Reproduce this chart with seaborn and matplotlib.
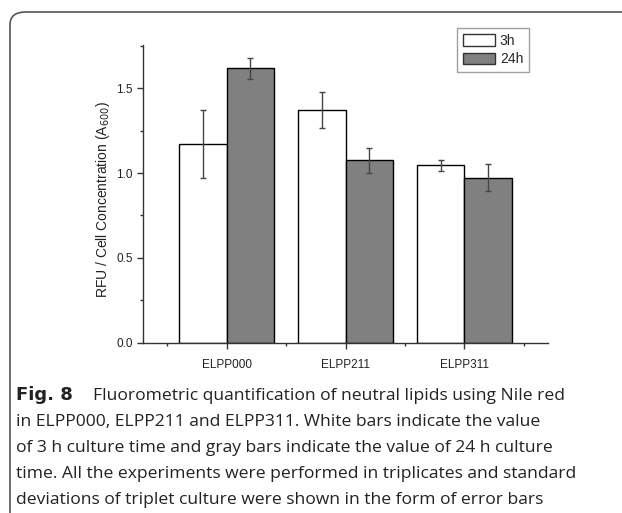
import matplotlib
matplotlib.use("Agg")
import matplotlib.pyplot as plt
import seaborn as sns
import pandas as pd
from matplotlib.patches import FancyBboxPatch, Patch
from matplotlib.ticker import MultipleLocator, FormatStrFormatter

strains = ["ELPP000", "ELPP211", "ELPP311"]
times = ["3h", "24h"]
mean_3h = [1.17, 1.37, 1.045]
mean_24h = [1.617, 1.075, 0.972]
sd_3h = [0.20, 0.105, 0.03]
sd_24h = [0.06, 0.075, 0.08]

caption_lines = [
    "in ELPP000, ELPP211 and ELPP311. White bars indicate the value",
    "of 3 h culture time and gray bars indicate the value of 24 h culture",
    "time. All the experiments were performed in triplicates and standard",
    "deviations of triplet culture were shown in the form of error bars",
]

df = pd.DataFrame({
    "strain": strains * 2,
    "time": ["3h"] * 3 + ["24h"] * 3,
    "value": mean_3h + mean_24h,
    "sd": sd_3h + sd_24h,
})

sns.set_style("ticks")
plt.rcParams["font.family"] = ["Liberation Sans", "DejaVu Sans"]

fig = plt.figure(figsize=(6.22, 5.13), dpi=100)
W, H = 622, 513
ax = fig.add_axes([143 / W, 1 - 342.7 / H, (548 - 143) / W, (342.7 - 45) / H])

colors = {"3h": "white", "24h": "#808080"}
sns.barplot(data=df, x="strain", y="value", hue="time", hue_order=times,
            palette=colors, edgecolor="black", linewidth=1.0, errorbar=None,
            width=0.8, gap=0, legend=False, ax=ax)

# error bars on the bar centres
for cont, t in zip(ax.containers, times):
    sub = df[df["time"] == t].set_index("strain").loc[strains]
    xs = [b.get_x() + b.get_width() / 2 for b in cont]
    ax.errorbar(xs, sub["value"], yerr=sub["sd"], fmt="none", ecolor="#444444",
                elinewidth=1.0, capsize=2, capthick=1.0, zorder=5)

ax.set_xlim(-0.705, 2.705)
ax.set_ylim(0, 1.755)
ax.yaxis.set_major_locator(MultipleLocator(0.5))
ax.yaxis.set_minor_locator(MultipleLocator(0.25))
ax.set_xticks([-0.5, 0.5, 1.5, 2.5], minor=True)
ax.tick_params(axis="both", which="major", length=4, width=1, color="#333333",
               labelsize=8.5, labelcolor="#222222")
ax.tick_params(axis="both", which="minor", length=2.5, width=1, color="#333333")
ax.tick_params(axis="x", which="major", pad=8)
ax.yaxis.set_major_formatter(FormatStrFormatter("%.1f"))
for s in ["top", "right"]:
    ax.spines[s].set_visible(False)
for s in ["left", "bottom"]:
    ax.spines[s].set_color("#333333")
    ax.spines[s].set_linewidth(1.0)
ax.set_xlabel("")
ax.set_ylabel("RFU / Cell Concentration (A$_{600}$)", fontsize=10, color="#222222")
ax.yaxis.set_label_coords(-0.077, 0.48)

handles = [Patch(facecolor=colors[t], edgecolor="#333333", linewidth=1.0) for t in times]
fig.legend(handles, times, loc="upper left", bbox_to_anchor=(456.7 / W, 1 - 27.7 / H),
           frameon=True, fancybox=False, edgecolor="#888888", fontsize=10,
           handlelength=2.3, handleheight=0.9, handletextpad=0.35, labelspacing=0.3,
           borderpad=0.45, borderaxespad=0)

# outer rounded border (open on right and bottom)
border = FancyBboxPatch((10 / W, -0.2), 1.2, 1 - 12 / H + 0.2,
                        boxstyle="round,pad=0,rounding_size=0.025",
                        transform=fig.transFigure, fill=False,
                        edgecolor="#555555", linewidth=1.2, clip_on=False)
fig.patches.append(border)

cap_font = ["Open Sans", "DejaVu Sans"]
fig.text(16 / W, 1 - 400 / H, "Fig. 8", fontsize=13, fontweight="bold",
         family=["DejaVu Sans"], color="#222222", va="baseline")
fig.text(93 / W, 1 - 400 / H,
         "Fluorometric quantification of neutral lipids using Nile red",
         fontsize=12.6, family=cap_font, color="#222222", va="baseline")
for i, line in enumerate(caption_lines):
    fig.text(16 / W, 1 - (425.7 + 26 * i) / H, line, fontsize=12.6,
             family=cap_font, color="#222222", va="baseline")

fig.savefig("out.png", dpi=100)
